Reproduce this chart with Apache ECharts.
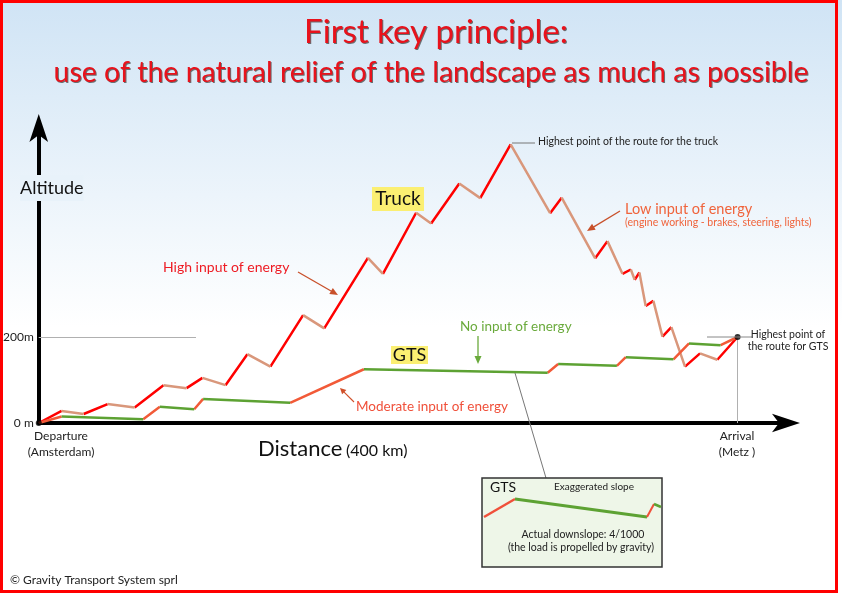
<!DOCTYPE html>
<html>
<head>
<meta charset="utf-8">
<script src="https://cdn.jsdelivr.net/npm/echarts@6/dist/echarts.min.js"></script>
<style>html,body{margin:0;padding:0;background:#fff}#c{width:842px;height:595px}</style>
</head>
<body>
<div id="c"></div>
<script>
// ---- Data (distance in km, altitude in m) ----
var truckDistance = [0, 13.1, 25.7, 39.4, 54.9, 71.4, 84.6, 93.7, 106.9, 119.4, 132.6, 151.3, 163.4, 188.4, 197, 216, 224.6, 240.7, 252.7, 270.1, 292.7, 299.3, 318.5, 325.5, 334.1, 338.9, 341.1, 343.8, 347.4, 351.8, 357, 362.1, 369.9, 378.5, 388.4, 400];
var truckAltitude = [0, 28, 21, 44, 36, 88, 81, 105, 88, 160, 131, 251, 220, 384, 347, 489, 464, 557, 523, 648, 488, 524, 383, 423, 347, 357, 333, 350, 272, 284, 201, 223, 131, 162, 147, 200];
var gtsDistance = [0, 13.1, 59.8, 69.3, 89, 94.1, 143.9, 186.1, 291.3, 297.3, 330.9, 336, 363.3, 372.2, 390.3, 400];
var gtsAltitude = [0, 15, 9, 38, 32, 56, 47, 125, 117, 137, 133, 153, 148, 185, 181, 200];
var yTickLabels = {0: '0 m', 200: '200m'};
var routeEnds = ['Departure\n(Amsterdam)', 'Arrival\n(Metz )'];

function segments(xs, ys, rising) {
  var out = [];
  for (var i = 0; i < xs.length - 1; i++) {
    var up = ys[i + 1] > ys[i];
    if (up === rising) {
      out.push([xs[i], ys[i]], [xs[i + 1], ys[i + 1]], ['-', '-']);
    }
  }
  return out;
}

var FONT = 'Lato, "Open Sans", sans-serif';
function txt(text, x, y, size, color, align, extra) {
  var s = {text: text, x: x, y: y, font: 'normal ' + size + 'px ' + FONT, fill: color,
    textAlign: align || 'left', textVerticalAlign: 'middle', align: align || 'left', verticalAlign: 'middle'};
  if (extra) for (var k in extra) s[k] = extra[k];
  return {type: 'text', z: 100, style: s};
}
function line(x1, y1, x2, y2, color, w) {
  return {type: 'line', z: 90, shape: {x1: x1, y1: y1, x2: x2, y2: y2}, style: {stroke: color, lineWidth: w || 1}};
}
function arrow(x1, y1, x2, y2, color, w, hl, hw) {
  hl = hl || 8; hw = hw || 3.5;
  var dx = x2 - x1, dy = y2 - y1, L = Math.sqrt(dx * dx + dy * dy);
  var ux = dx / L, uy = dy / L, px = -uy, py = ux;
  var bx = x2 - ux * hl, by = y2 - uy * hl;
  return [
    line(x1, y1, bx + ux * 2, by + uy * 2, color, w || 1.3),
    {type: 'polygon', z: 91, shape: {points: [[x2, y2], [bx + px * hw, by + py * hw], [bx - px * hw, by - py * hw]]}, style: {fill: color}}
  ];
}

var shadow = {textShadowColor: 'rgba(70,70,70,0.75)', textShadowOffsetX: 1, textShadowOffsetY: 1.2, textShadowBlur: 0.5};
var graphics = [];
// frame
graphics.push({type: 'rect', z: 200, shape: {x: 1.5, y: 1.5, width: 835, height: 590}, style: {fill: 'none', stroke: '#ff0000', lineWidth: 3}});
// titles
graphics.push(txt('First key principle:', 436, 32, 33, '#e8121c', 'center', shadow));
graphics.push(txt('use of the natural relief of the landscape as much as possible', 431, 73, 28.5, '#e8121c', 'center', shadow));
// axis titles
graphics.push(txt('Altitude', 20, 188, 18, '#111', 'left', {backgroundColor: '#e8f2fa', padding: [4, 0, 4, 0]}));
graphics.push(txt('Distance', 258, 449, 22, '#111', 'left'));
graphics.push(txt('(400 km)', 346, 451, 16, '#111', 'left'));
// route ends
graphics.push(txt(routeEnds[0], 61, 444, 12, '#222', 'center', {lineHeight: 16}));
graphics.push(txt(routeEnds[1], 737, 444, 12, '#222', 'center', {lineHeight: 16}));
// labels
graphics.push({type: 'rect', z: 95, shape: {x: 372, y: 187, width: 52, height: 24}, style: {fill: '#fbef72'}});
graphics.push(txt('Truck', 398, 199, 19, '#111', 'center'));
graphics.push({type: 'rect', z: 95, shape: {x: 391, y: 346, width: 37, height: 18}, style: {fill: '#fbef72'}});
graphics.push(txt('GTS', 409.5, 355, 18, '#111', 'center'));
// annotations
graphics.push(txt('High input of energy', 163, 267, 14, '#ee1c24', 'left'));
graphics = graphics.concat(arrow(298, 272, 338, 295, '#c8502a'));
graphics.push(line(512, 143, 535, 143, '#777', 1));
graphics.push(txt('Highest point of the route for the truck', 538, 142, 10.5, '#222', 'left'));
graphics.push(txt('Low input of energy', 625, 209, 14.5, '#f0643c', 'left'));
graphics.push(txt('(engine working - brakes, steering, lights)', 625, 223, 10.5, '#f0643c', 'left'));
graphics = graphics.concat(arrow(620, 211, 587, 231, '#c8502a'));
graphics.push(txt('No input of energy', 460, 327, 13.5, '#6aaa3c', 'left'));
graphics = graphics.concat(arrow(478, 336, 478, 364, '#6aaa3c'));
graphics.push(txt('Moderate input of energy', 356, 407, 13.5, '#f0503a', 'left'));
graphics = graphics.concat(arrow(354, 402, 340, 388, '#d0502a', 1.1, 6, 3));
graphics.push(line(707, 337, 752, 337, '#888', 1));
graphics.push(txt('Highest point of\nthe route for GTS', 788, 341, 10.5, '#222', 'center', {lineHeight: 12}));
// leader to inset
graphics.push(line(515, 373, 546, 478, '#777', 1));
// inset
graphics.push({type: 'rect', z: 92, shape: {x: 482, y: 478, width: 180, height: 89}, style: {fill: '#eef6e8', stroke: '#333', lineWidth: 1.5}});
graphics.push(txt('GTS', 490, 487, 14, '#111', 'left'));
graphics.push(txt('Exaggerated slope', 594, 487, 10, '#222', 'center'));
graphics.push({type: 'polyline', z: 96, shape: {points: [[484, 517], [515, 499]]}, style: {stroke: '#f0503a', lineWidth: 2.5}});
graphics.push({type: 'polyline', z: 96, shape: {points: [[515, 499], [647, 517]]}, style: {stroke: '#5da233', lineWidth: 3}});
graphics.push({type: 'polyline', z: 96, shape: {points: [[647, 517], [654, 504]]}, style: {stroke: '#f0503a', lineWidth: 2}});
graphics.push({type: 'polyline', z: 96, shape: {points: [[654, 504], [661, 507]]}, style: {stroke: '#5da233', lineWidth: 2.5}});
graphics.push(line(515, 518.5, 660, 518.5, '#222', 1));
graphics = graphics.concat(arrow(592, 495, 590, 506, '#5da233', 1, 5, 2.5));
graphics.push(txt('Actual downslope: 4/1000', 583, 535, 10.5, '#222', 'center'));
graphics.push(txt('(the load is propelled by gravity)', 581, 548, 10.5, '#222', 'center'));
// copyright
graphics.push(txt('\u00a9 Gravity Transport System sprl', 10, 580, 12, '#222', 'left'));

var chart = echarts.init(document.getElementById('c'), null, {renderer: 'canvas'});
chart.setOption({
  animation: false,
  backgroundColor: {type: 'linear', x: 0, y: 0, x2: 0, y2: 1, colorStops: [
    {offset: 0, color: '#d0e4f5'}, {offset: 0.55, color: '#ffffff'}, {offset: 1, color: '#ffffff'}]},
  grid: {left: 37, right: 52, top: 122, bottom: 172, containLabel: false},
  xAxis: {
    type: 'value', min: 0, max: 430, interval: 400,
    axisLine: {lineStyle: {color: '#000', width: 4}, symbol: ['none', 'arrow'], symbolSize: [14, 28], symbolOffset: [0, 10]},
    axisTick: {show: false}, axisLabel: {show: false}, splitLine: {show: false}
  },
  yAxis: {
    type: 'value', min: 0, max: 700, interval: 200,
    axisLine: {show: true, lineStyle: {color: '#000', width: 4}, symbol: ['none', 'arrow'], symbolSize: [14, 28], symbolOffset: [0, 8]},
    axisTick: {show: false}, splitLine: {show: false},
    axisLabel: {margin: 5, fontSize: 12, color: '#222', fontFamily: FONT,
      formatter: function (v) { return yTickLabels[v] || ''; }}
  },
  graphic: graphics,
  series: [
    {name: 'Truck up', type: 'line', showSymbol: false, z: 3, data: segments(truckDistance, truckAltitude, true),
      lineStyle: {color: '#ff0000', width: 2.5}, itemStyle: {color: '#ff0000'},
      markLine: {silent: true, symbol: 'none', label: {show: false}, lineStyle: {color: '#b0b0b0', width: 1, type: 'solid'},
        data: [[{coord: [0, 200]}, {coord: [90, 200]}], [{coord: [400, 200]}, {coord: [400, 0]}]]}},
    {name: 'Truck down', type: 'line', showSymbol: false, z: 3, data: segments(truckDistance, truckAltitude, false),
      lineStyle: {color: '#d9977b', width: 2.5}, itemStyle: {color: '#d9977b'}},
    {name: 'GTS up', type: 'line', showSymbol: false, z: 4, data: segments(gtsDistance, gtsAltitude, true),
      lineStyle: {color: '#f25a38', width: 2.5}, itemStyle: {color: '#f25a38'}},
    {name: 'GTS flat', type: 'line', showSymbol: false, z: 4, data: segments(gtsDistance, gtsAltitude, false),
      lineStyle: {color: '#5da233', width: 2.5}, itemStyle: {color: '#5da233'}},
    {name: 'Ends', type: 'scatter', z: 6, symbolSize: 6, itemStyle: {color: '#000'},
      data: [[gtsDistance[0], gtsAltitude[0]], [gtsDistance[gtsDistance.length - 1], gtsAltitude[gtsAltitude.length - 1]]]}
  ]
});
</script>
</body>
</html>
